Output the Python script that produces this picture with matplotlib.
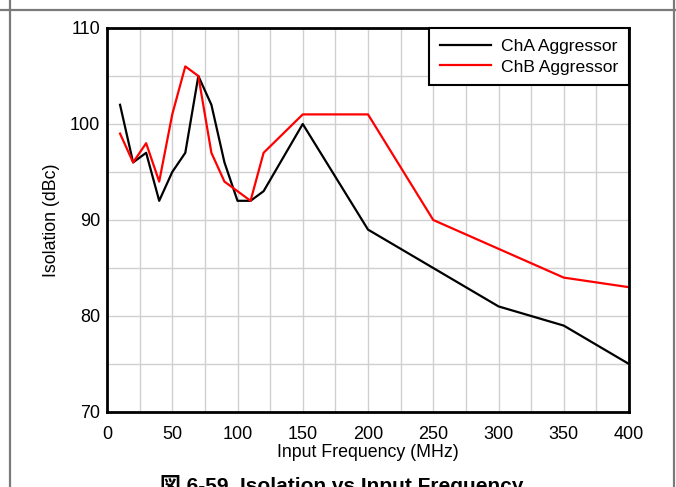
import matplotlib
matplotlib.use("Agg")
import matplotlib.pyplot as plt
from matplotlib.lines import Line2D

plt.rcParams['font.family'] = ['Liberation Sans', 'Noto Sans CJK JP', 'DejaVu Sans']

freq_a = [10, 20, 30, 40, 50, 60, 70, 80, 90, 100, 110, 120, 150, 200, 250, 300, 350, 400]
cha = [102, 96, 97, 92, 95, 97, 105, 102, 96, 92, 92, 93, 100, 89, 85, 81, 79, 75]
freq_b = [10, 20, 30, 40, 50, 60, 70, 80, 90, 100, 110, 120, 150, 200, 250, 300, 350, 400]
chb = [99, 96, 98, 94, 101, 106, 105, 97, 94, 93, 92, 97, 101, 101, 90, 87, 84, 83]
xticks = [0, 50, 100, 150, 200, 250, 300, 350, 400]
yticks = [70, 80, 90, 100, 110]

W, H = 676, 487
fig = plt.figure(figsize=(W / 100, H / 100), dpi=100)
ax = fig.add_axes([107 / W, 1 - 412 / H, (629 - 107) / W, (412 - 28) / H])

ax.plot(freq_a, cha, color='black', lw=1.6, label='ChA Aggressor', zorder=3)
ax.plot(freq_b, chb, color='#ff0000', lw=1.6, label='ChB Aggressor', zorder=3)

ax.set_xlim(0, 400)
ax.set_ylim(70, 110)
ax.set_xticks(xticks)
ax.set_yticks(yticks)
ax.set_xticks(range(0, 401, 25), minor=True)
ax.set_yticks(range(70, 111, 5), minor=True)
ax.grid(True, which='both', color='#d0d0d0', lw=1.0, zorder=0)
ax.tick_params(which='both', length=0, labelsize=13)
ax.tick_params(axis='x', pad=10)
ax.tick_params(axis='y', pad=5)
for s in ax.spines.values():
    s.set_linewidth(2.0)
    s.set_color('black')
    s.set_zorder(4)

ax.set_xlabel('Input Frequency (MHz)', fontsize=12.8, labelpad=1)
ax.set_ylabel('Isolation (dBc)', fontsize=12.8, labelpad=7)

leg = ax.legend(loc='upper right', fontsize=12.6, frameon=True, fancybox=False,
                borderaxespad=0, handlelength=2.9, handletextpad=0.6,
                borderpad=0.6, labelspacing=0.32)
leg.get_frame().set_edgecolor('black')
leg.get_frame().set_linewidth(1.5)
leg.get_frame().set_alpha(1)

fig.text(342 / W, 1 - 492 / H, '図 6-59. Isolation vs Input Frequency',
         ha='center', va='baseline', fontsize=15, fontweight='bold')

# frame lines
frame_color = '#7a7a7a'
fig.add_artist(Line2D([0, 1], [1 - 10 / H, 1 - 10 / H], transform=fig.transFigure,
                      color=frame_color, lw=1.6))
fig.add_artist(Line2D([9.5 / W, 9.5 / W], [0, 1], transform=fig.transFigure,
                      color=frame_color, lw=1.6))
fig.add_artist(Line2D([674 / W, 674 / W], [0, 1], transform=fig.transFigure,
                      color=frame_color, lw=1.6))

fig.savefig('out.png', dpi=100)
